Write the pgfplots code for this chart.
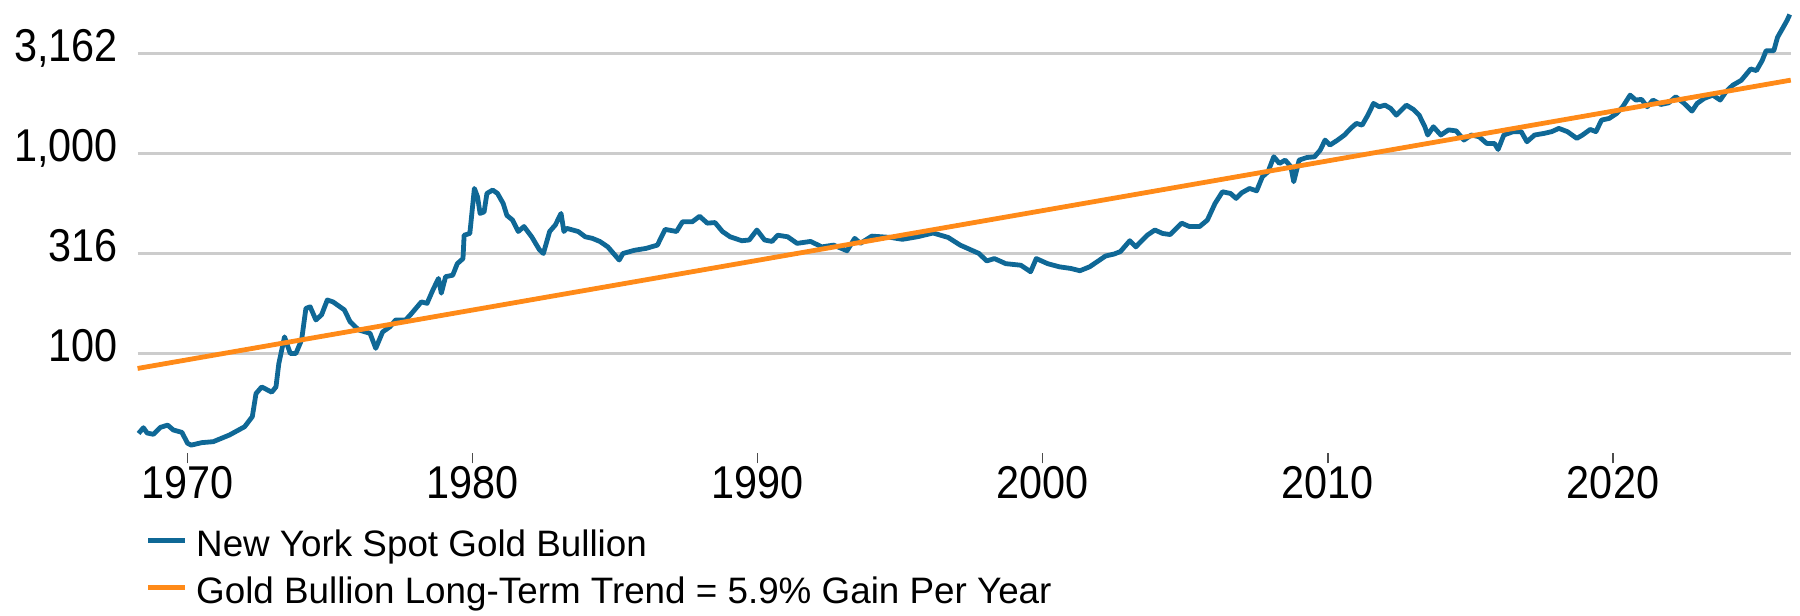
\documentclass[border=0pt]{standalone}
\usepackage{fontspec}
\setmainfont{Liberation Sans}
\newfontfamily\tickfont{Liberation Sans}[FakeStretch=0.9]
\usepackage{pgfplots}
\pgfplotsset{compat=1.18}
\definecolor{goldblue}{HTML}{0F6896}
\definecolor{trendorange}{HTML}{FF8A18}
\definecolor{gridgray}{HTML}{CCCCCC}
\begin{document}
\begin{tikzpicture}
\begin{axis}[
  at={(0pt,0pt)}, anchor=south west,
  scale only axis,
  width=413.3pt, height=110pt,
  xmin=1968.246, xmax=2026.236,
  ymode=log, log basis y=10,
  ymin=31.62, ymax=5012,
  clip=false,
  axis line style={draw=none},
  xtick={1970,1980,1990,2000,2010,2020},
  xticklabels={1970,1980,1990,2000,2010,2020},
  xtick pos=left,
  tick align=outside,
  major tick length=2.5pt,
  xtick style={draw=black!70, line width=0.3pt},
  ytick={100,316.23,1000,3162.3},
  yticklabels={100,316,{1,000},{3,162}},
  ytick style={draw=none},
  minor tick num=0,
  ymajorgrids,
  grid style={gridgray, line width=0.55pt},
  yticklabel style={anchor=base east, inner sep=0pt, xshift=-2.2pt, yshift=-2.1pt, font=\tickfont\fontsize{11.5}{13}\selectfont},
  xticklabel style={anchor=base, inner sep=0pt, yshift=-8.7pt, font=\tickfont\fontsize{11.5}{13}\selectfont},
  legend style={draw=none, fill=none, inner sep=0pt, outer sep=0pt,
    at={(axis description cs:0.00508,-0.171)}, anchor=north west,
    row sep=2.8pt, column sep=2.1pt,
    font=\fontsize{9.2}{11}\selectfont,
    cells={anchor=base west},
    nodes={inner sep=0pt, text height=7pt, text depth=2pt}},
  legend cell align=left,
  legend image code/.code={\draw[#1, line width=1.25pt] (0pt,1.5pt) -- (9.2pt,1.5pt);},
]
\addplot[goldblue, line width=1.2pt, line join=round] coordinates {
(1968.28,39.8) (1968.45,42.5) (1968.58,40) (1968.8,39.4) (1969.05,42.7) (1969.3,43.8)
(1969.5,41.4) (1969.8,40.3) (1970.0,35.5) (1970.13,34.8) (1970.5,35.8) (1970.9,36.2)
(1971.47,39.1) (1972.0,43) (1972.27,48.3) (1972.4,63) (1972.6,68) (1972.95,64)
(1973.1,68) (1973.2,89) (1973.4,121) (1973.6,100) (1973.8,100) (1974.0,117)
(1974.15,168) (1974.3,171) (1974.5,147) (1974.7,156) (1974.9,185) (1975.1,181)
(1975.5,165) (1975.7,144) (1976.0,131) (1976.4,126) (1976.6,106) (1976.84,128)
(1977.1,136) (1977.3,147) (1977.65,147) (1977.85,158) (1978.2,181) (1978.4,178)
(1978.6,207) (1978.8,237) (1978.9,200) (1979.05,242) (1979.3,246) (1979.46,281)
(1979.66,298) (1979.7,390) (1979.9,398) (1980.06,668) (1980.17,607) (1980.26,501)
(1980.4,510) (1980.5,631) (1980.7,656) (1980.87,631) (1981.07,562) (1981.2,490)
(1981.4,464) (1981.6,407) (1981.8,431) (1982.07,383) (1982.34,330) (1982.48,316)
(1982.7,407) (1982.9,439) (1983.1,501) (1983.2,407) (1983.3,422) (1983.7,407)
(1983.95,383) (1984.2,376) (1984.46,363) (1984.74,341) (1985.14,293) (1985.27,316)
(1985.68,328) (1986.08,335) (1986.48,348) (1986.75,417) (1987.15,407) (1987.36,455)
(1987.7,455) (1987.96,485) (1988.23,448) (1988.5,451) (1988.76,407) (1989.03,383)
(1989.44,366) (1989.7,369) (1989.97,414) (1990.24,369) (1990.5,363) (1990.7,390)
(1991.05,383) (1991.38,355) (1991.85,363) (1992.25,341) (1992.66,348) (1993.13,326)
(1993.4,376) (1993.6,355) (1994.0,386) (1994.67,380) (1995.07,372) (1995.6,383)
(1996.15,400) (1996.68,380) (1997.1,348) (1997.76,316) (1998.03,290) (1998.3,298)
(1998.7,281) (1999.23,276) (1999.57,256) (1999.77,298) (2000.17,281) (2000.58,271)
(2000.98,266) (2001.3,259) (2001.64,271) (2001.9,287) (2002.2,307) (2002.5,314)
(2002.72,323) (2003.05,366) (2003.26,341) (2003.66,390) (2003.93,414) (2004.2,398)
(2004.47,393) (2004.87,448) (2005.14,431) (2005.5,431) (2005.77,464) (2006.04,562)
(2006.3,643) (2006.58,631) (2006.78,596) (2006.98,636) (2007.25,668) (2007.5,650)
(2007.7,764) (2007.9,810) (2008.1,962) (2008.3,891) (2008.5,926) (2008.7,858)
(2008.8,722) (2008.99,926) (2009.26,954) (2009.53,962) (2009.73,1039) (2009.9,1166)
(2010.07,1101) (2010.34,1166) (2010.58,1236) (2010.8,1334) (2011.0,1413) (2011.2,1385)
(2011.4,1554) (2011.6,1778) (2011.8,1711) (2012.0,1744) (2012.2,1679) (2012.4,1554)
(2012.75,1744) (2013.0,1659) (2013.2,1554) (2013.4,1359) (2013.5,1236) (2013.7,1359)
(2013.96,1236) (2014.23,1311) (2014.5,1296) (2014.77,1166) (2015.03,1236) (2015.3,1212)
(2015.57,1122) (2015.84,1122) (2015.97,1047) (2016.17,1236) (2016.5,1285) (2016.78,1285)
(2016.98,1144) (2017.25,1236) (2017.58,1259) (2017.85,1285) (2018.1,1334) (2018.4,1285)
(2018.73,1189) (2018.93,1236) (2019.2,1318) (2019.4,1285) (2019.6,1468) (2019.87,1497)
(2020.13,1585) (2020.34,1711) (2020.6,1957) (2020.8,1848) (2021.0,1863) (2021.2,1711)
(2021.4,1848) (2021.68,1757) (2021.95,1790) (2022.2,1919) (2022.5,1778) (2022.77,1628)
(2022.95,1778) (2023.2,1884) (2023.5,1957) (2023.76,1848) (2023.96,2033) (2024.2,2193)
(2024.5,2321) (2024.83,2645) (2025.03,2594) (2025.23,2908) (2025.37,3263) (2025.64,3263)
(2025.77,3806) (2025.97,4272) (2026.1,4611) (2026.2,4950)
};
\addlegendentry{New York Spot Gold Bullion}
\addplot[trendorange, line width=1.2pt] coordinates {(1968.246,84.1) (2026.236,2325)};
\addlegendentry{Gold Bullion Long-Term Trend = 5.9\% Gain Per Year}
\end{axis}
\pgfresetboundingbox
\path (-34.4pt,-40.4pt) rectangle (415.6pt,113.35pt);
\end{tikzpicture}
\end{document}
